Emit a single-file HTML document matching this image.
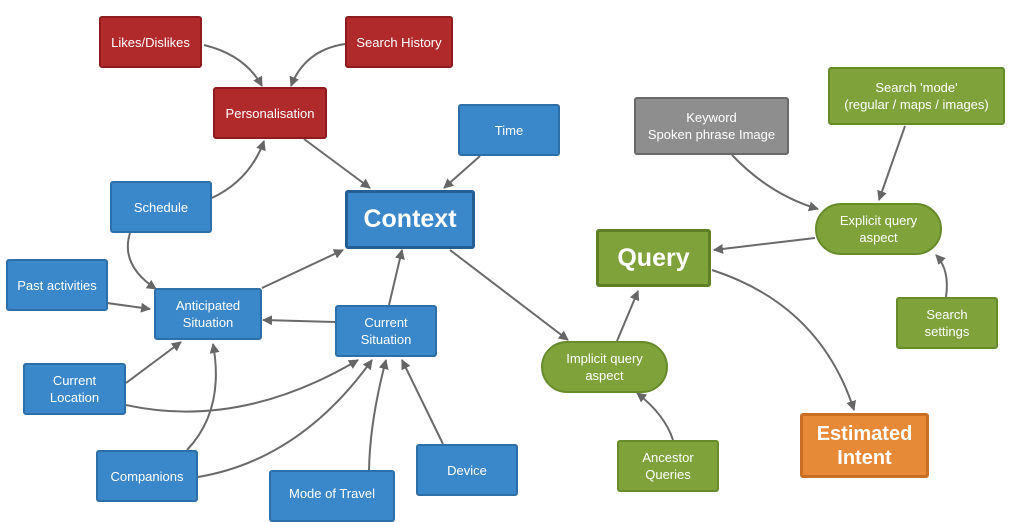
<!DOCTYPE html>
<html><head><meta charset="utf-8"><style>
body{margin:0;width:1024px;height:514px;background:#fff;position:relative;overflow:hidden;font-family:"Liberation Sans",sans-serif}
.n{position:absolute;box-sizing:border-box;display:flex;align-items:center;justify-content:center;text-align:center;color:#fff;font-size:13px;line-height:17px;border-radius:3px}
.r{background:#b02a2c;border:2px solid #8e1c1e}
.b{background:#3a87c9;border:2px solid #2d6fa8}
.g{background:#7fa23a;border:2px solid #678a2a}
.p{border-radius:26px}
.gr{background:#8e8e8e;border:2px solid #6a6a6a}
svg{position:absolute;left:0;top:0}
</style></head><body>
<svg width="1024" height="514">
<defs><marker id="a" markerWidth="10" markerHeight="10" refX="9" refY="5" orient="auto" markerUnits="userSpaceOnUse"><path d="M0,0 L10,5 L0,10 z" fill="#666"/></marker></defs>
<g fill="none" stroke="#6a6a6a" stroke-width="2" marker-end="url(#a)">
<path d="M204,45 Q245,55 262,86"/>
<path d="M345,44 Q305,50 291,86"/>
<path d="M304,139 L370,188"/>
<path d="M480,156 L444,188"/>
<path d="M212,198 Q250,180 264,141"/>
<path d="M130,233 Q120,265 156,289"/>
<path d="M107,303 L150,309"/>
<path d="M262,288 L343,250"/>
<path d="M335,322 L263,320"/>
<path d="M389,305 L402,250"/>
<path d="M126,383 L181,342"/>
<path d="M126,405 Q240,430 358,360"/>
<path d="M187,450 Q225,410 213,344"/>
<path d="M198,477 Q300,460 372,360"/>
<path d="M369,470 Q370,420 386,360"/>
<path d="M443,444 L402,360"/>
<path d="M450,250 L568,340"/>
<path d="M617,341 L638,291"/>
<path d="M815,238 L714,250"/>
<path d="M732,155 Q770,195 818,209"/>
<path d="M905,126 L879,200"/>
<path d="M946,297 Q950,270 936,255"/>
<path d="M712,270 Q820,305 854,410"/>
<path d="M673,440 Q665,415 637,393"/>
</g></svg>
<div class="n r" style="left:99px;top:16px;width:103px;height:52px">Likes/Dislikes</div>
<div class="n r" style="left:345px;top:16px;width:108px;height:52px">Search History</div>
<div class="n r" style="left:213px;top:87px;width:114px;height:52px">Personalisation</div>
<div class="n b" style="left:458px;top:104px;width:102px;height:52px">Time</div>
<div class="n b" style="left:345px;top:190px;width:130px;height:59px;font-size:25px;font-weight:bold;border:3px solid #245f94">Context</div>
<div class="n b" style="left:110px;top:181px;width:102px;height:52px">Schedule</div>
<div class="n b" style="left:6px;top:259px;width:102px;height:52px">Past activities</div>
<div class="n b" style="left:154px;top:288px;width:108px;height:52px">Anticipated<br>Situation</div>
<div class="n b" style="left:335px;top:305px;width:102px;height:52px">Current<br>Situation</div>
<div class="n b" style="left:23px;top:363px;width:103px;height:52px">Current<br>Location</div>
<div class="n b" style="left:96px;top:450px;width:102px;height:52px">Companions</div>
<div class="n b" style="left:269px;top:470px;width:126px;height:52px;padding-bottom:6px">Mode of Travel</div>
<div class="n b" style="left:416px;top:444px;width:102px;height:52px">Device</div>
<div class="n gr" style="left:634px;top:97px;width:155px;height:58px">Keyword<br>Spoken phrase Image</div>
<div class="n g" style="left:828px;top:67px;width:177px;height:58px">Search 'mode'<br>(regular / maps / images)</div>
<div class="n g p" style="left:815px;top:203px;width:127px;height:52px">Explicit query<br>aspect</div>
<div class="n g" style="left:596px;top:229px;width:115px;height:58px;font-size:25px;font-weight:bold;border:3px solid #5e7f24">Query</div>
<div class="n g" style="left:896px;top:297px;width:102px;height:52px">Search<br>settings</div>
<div class="n g p" style="left:541px;top:341px;width:127px;height:52px">Implicit query<br>aspect</div>
<div class="n g" style="left:617px;top:440px;width:102px;height:52px">Ancestor<br>Queries</div>
<div class="n" style="left:800px;top:413px;width:129px;height:65px;background:#e68a38;border:3px solid #c96f24;font-size:20px;line-height:24px;font-weight:bold">Estimated<br>Intent</div>
</body></html>
